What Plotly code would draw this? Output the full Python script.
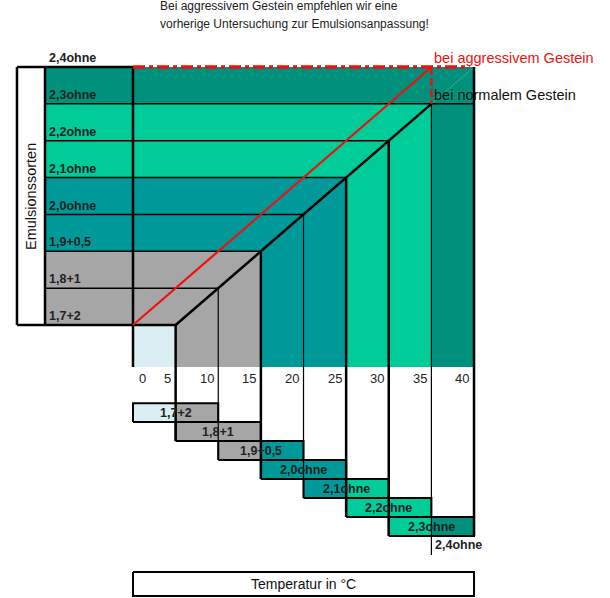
import plotly.graph_objects as go

# emulsion grades, lowest to highest
sorten = ["1,7+2", "1,8+1", "1,9+0,5", "2,0ohne", "2,1ohne", "2,2ohne", "2,3ohne", "2,4ohne"]
# start temperature (°C) of each grade's range; every range is 10 °C wide
t_start = [0, 5, 10, 15, 20, 25, 30, 35]
t_width = 10
temp_ticks = [0, 5, 10, 15, 20, 25, 30, 35, 40]
# row colours (per grade row) and column colours (per 5 °C step)
row_col = ["#A6A6A6", "#A6A6A6", "#009999", "#009999", "#00CC99", "#00CC99", "#00917C"]
col_col = ["#DAEEF3"] + row_col

top_lines = ["Bei aggressivem Gestein empfehlen wir eine",
             "vorherige Untersuchung zur Emulsionsanpassung!"]

FONT = "Liberation Sans, Arial, sans-serif"
XL = -10.32      # left edge of label column
XB = -13.61      # left edge of "Emulsionssorten" box
YB = -1.14       # bottom of the coloured columns
BAR_TOP = -2.12  # top of the first range bar
BAR_H = 0.515

fig = go.Figure()


def poly(xs, ys, color):
    fig.add_trace(go.Scatter(x=xs + [xs[0]], y=ys + [ys[0]], mode="lines", fill="toself",
                             fillcolor=color, line=dict(width=0, color=color), hoverinfo="skip"))


def lines(segs, color="black", width=1.5, dash="solid"):
    xs, ys = [], []
    for s in segs:
        xs += [p[0] for p in s] + [None]
        ys += [p[1] for p in s] + [None]
    fig.add_trace(go.Scatter(x=xs, y=ys, mode="lines", hoverinfo="skip",
                             line=dict(color=color, width=width, dash=dash)))


n_rows = len(row_col)
# horizontal bands
for k in range(n_rows):
    poly([XL, 5 + 5 * k, 10 + 5 * k, XL], [k, k, k + 1, k + 1], row_col[k])
# vertical columns
poly([0, 5, 5, 0], [YB, YB, 0, 0], col_col[0])
for j in range(1, len(col_col)):
    poly([5 * j, 5 * j + 5, 5 * j + 5, 5 * j], [YB, YB, j, j - 1], col_col[j])


def bar_bottom(i):
    return BAR_TOP - BAR_H * (i + 1)


# range bars below the axis
for i in range(len(sorten) - 1):
    t0 = t_start[i]
    yt, yb = BAR_TOP - BAR_H * i, bar_bottom(i)
    poly([t0, t0 + 5, t0 + 5, t0], [yb, yb, yt, yt], col_col[i])
    poly([t0 + 5, t0 + t_width, t0 + t_width, t0 + 5], [yb, yb, yt, yt], col_col[i + 1])
    lines([[(t0, yb), (t0 + t_width, yb), (t0 + t_width, yt), (t0, yt), (t0, yb)]], width=2)
    fig.add_annotation(x=t0 + t_width / 2, y=(yt + yb) / 2, text="<b>" + sorten[i] + "</b>",
                       showarrow=False, font=dict(family=FONT, size=12.5, color="#222"))

# row separators
lines([[(XL, k), (5 + 5 * k, k)] for k in range(1, n_rows - 1)] + [[(XL, 6), (40, 6)]], width=1.5)

# thick frame lines
thick = [
    [(XB, 7), (0, 7)], [(XB, 0), (5, 0)], [(XB, 0), (XB, 7)], [(XL, 0), (XL, 7)],
    [(0, 7), (0, YB)], [(5, 0), (35, 6)],
    [(5, 0), (5, bar_bottom(1))], [(15, 2), (15, bar_bottom(3))],
    [(25, 4), (25, bar_bottom(5))], [(30, 5), (30, bar_bottom(6))],
    [(40, 7), (40, bar_bottom(6))],
]
lines(thick, width=2.5)
thin = [[(10, 1), (10, bar_bottom(2))], [(20, 3), (20, bar_bottom(4))],
        [(35, 6), (35, bar_bottom(7))]]
lines(thin, width=1.2)

# red line (aggressive rock)
lines([[(0, 0), (35, 7)]], color="#F01010", width=2.2)
lines([[(0, 7), (39.5, 7)]], color="#F01010", width=3.5, dash="12px,4px,4px,4px")
lines([[(35, 7), (35, 6)]], color="#F01010", width=2.5, dash="8px,3px")

# Emulsionssorten box and Temperatur box
lines([[(0, -6.70), (40, -6.70), (40, -7.35), (0, -7.35), (0, -6.70)]], width=2)
fig.add_annotation(x=20, y=-7.03, text="Temperatur in °C", showarrow=False,
                   font=dict(family=FONT, size=14, color="#111"))
fig.add_annotation(x=(XB + XL) / 2, y=3.5, text="Emulsionssorten", textangle=-90,
                   showarrow=False, font=dict(family=FONT, size=14.5, color="#111"))

# row labels
for i, s in enumerate(sorten):
    fig.add_annotation(x=XL + 0.2, y=i + 0.24, text="<b>" + s + "</b>", xanchor="left",
                       showarrow=False, font=dict(family=FONT, size=12.5, color="#222"))
fig.add_annotation(x=35.2, y=-5.98, text="<b>" + sorten[-1] + "</b>", xanchor="left",
                   showarrow=False, font=dict(family=FONT, size=12.5, color="#222"))

# temperature tick labels
for t in temp_ticks:
    if t == 0:
        fig.add_annotation(x=0.5, y=-1.44, text=str(t), xanchor="left", showarrow=False,
                           font=dict(family=FONT, size=13, color="#222"))
    else:
        fig.add_annotation(x=t - 0.3, y=-1.44, text=str(t), xanchor="right", showarrow=False,
                           font=dict(family=FONT, size=13, color="#222"))

# legend texts
fig.add_annotation(x=35.1, y=7.24, text="bei aggressivem Gestein", xanchor="left",
                   showarrow=False, font=dict(family=FONT, size=14.5, color="#F01010"))
fig.add_annotation(x=35.1, y=6.24, text="bei normalem Gestein", xanchor="left",
                   showarrow=False, font=dict(family=FONT, size=14.5, color="#111"))

# note on top
for n, txt in enumerate(top_lines):
    fig.add_annotation(x=2.93, y=8.655 - 0.49 * n, text=txt, xanchor="left", showarrow=False,
                       font=dict(family=FONT, size=12, color="#222"))

axis = dict(showline=False, zeroline=False, showgrid=False, showticklabels=False, fixedrange=True)
fig.update_layout(
    width=610, height=598,
    margin=dict(l=0, r=0, t=0, b=0),
    showlegend=False,
    plot_bgcolor="white", paper_bgcolor="white",
    xaxis=dict(axis, range=[-15.6, 55.95]),
    yaxis=dict(axis, range=[-7.407, 8.818]),
)
fig.write_html("out.html", config={"displayModeBar": False},
               post_script="document.body.style.margin='0';")
